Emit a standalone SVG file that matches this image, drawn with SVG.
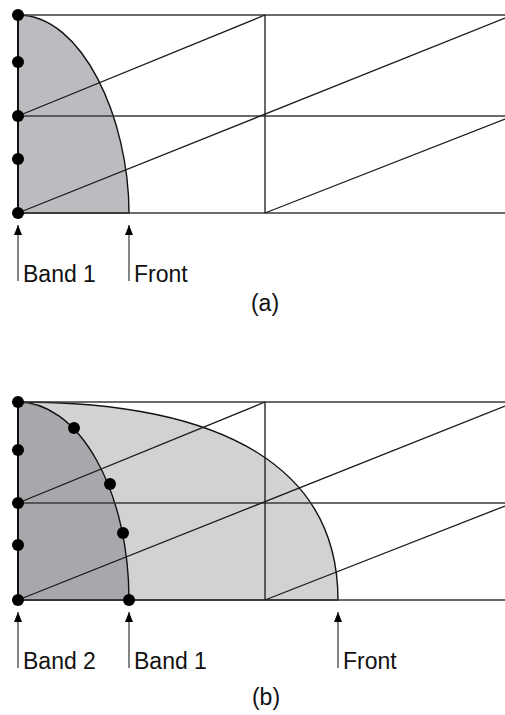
<svg xmlns="http://www.w3.org/2000/svg" width="505" height="715" viewBox="0 0 505 715">
<style>
.ln{stroke:#1a1a1a;stroke-width:1.3;fill:none}
.hl{stroke:#3a3a3a;stroke-width:1.5;fill:none}
.lv{stroke:#111;stroke-width:2;fill:none}
.cv{stroke:#111;stroke-width:1.4}
.dot{fill:#000}
.ar{stroke:#222;stroke-width:1.1;fill:none}
.tx{font-family:"Liberation Sans",Arial,sans-serif;font-size:23px;fill:#111}
</style>
<defs>
<marker id="ah" viewBox="0 0 10 8" refX="10" refY="4" markerWidth="10" markerHeight="8" markerUnits="userSpaceOnUse" orient="auto">
<path d="M0,0 L10,4 L0,8 Z" fill="#000"/>
</marker>
</defs>
<!-- Panel (a) -->
<g id="panel-a">
<g id="a-front">
<path class="cv" d="M18,15 C83,15 129,120 129,213 L18,213 Z" fill="#bbbcbf"/>
</g>
<g id="a-grid">
<line class="hl" x1="18" y1="15" x2="505" y2="15"/>
<line class="hl" x1="18" y1="116" x2="505" y2="116"/>
<line class="hl" x1="18" y1="213" x2="505" y2="213"/>
<line class="ln" x1="265" y1="15" x2="265" y2="213"/>
<line class="ln" x1="18" y1="116" x2="265" y2="15"/>
<line class="ln" x1="18" y1="213" x2="505" y2="18"/>
<line class="ln" x1="265" y1="213" x2="505" y2="119"/>
<line class="lv" x1="18" y1="15" x2="18" y2="213"/>
</g>
<g id="a-dots">
<circle class="dot" cx="18" cy="15" r="6"/>
<circle class="dot" cx="18" cy="62" r="6"/>
<circle class="dot" cx="18" cy="116" r="6"/>
<circle class="dot" cx="18" cy="159" r="6"/>
<circle class="dot" cx="18" cy="213" r="6"/>
</g>
<g id="a-labels">
<line class="ar" x1="18" y1="281" x2="18" y2="225" marker-end="url(#ah)"/>
<line class="ar" x1="129" y1="281" x2="129" y2="225" marker-end="url(#ah)"/>
<text class="tx" x="23" y="282">Band 1</text>
<text class="tx" x="134" y="282">Front</text>
<text class="tx" x="265" y="311" text-anchor="middle">(a)</text>
</g>
</g>
<!-- Panel (b) -->
<g id="panel-b">
<g id="b-front">
<path class="cv" d="M18,402 C228,402 338,470 338,600 L18,600 Z" fill="#d1d2d4"/>
</g>
<g id="b-band1">
<path class="cv" d="M18,402 A111,198 0 0 1 129,600 L18,600 Z" fill="#a7a8ab"/>
</g>
<g id="b-grid">
<line class="hl" x1="18" y1="402" x2="505" y2="402"/>
<line class="hl" x1="18" y1="503" x2="505" y2="503"/>
<line class="hl" x1="18" y1="600" x2="505" y2="600"/>
<line class="ln" x1="265" y1="402" x2="265" y2="600"/>
<line class="ln" x1="18" y1="503" x2="265" y2="402"/>
<line class="ln" x1="18" y1="600" x2="505" y2="406"/>
<line class="ln" x1="265" y1="600" x2="505" y2="506"/>
<line class="lv" x1="18" y1="402" x2="18" y2="600"/>
</g>
<g id="b-dots">
<circle class="dot" cx="18" cy="402" r="6"/>
<circle class="dot" cx="18" cy="450" r="6"/>
<circle class="dot" cx="18" cy="503" r="6"/>
<circle class="dot" cx="18" cy="545" r="6"/>
<circle class="dot" cx="18" cy="600" r="6"/>
<circle class="dot" cx="74" cy="428" r="6"/>
<circle class="dot" cx="110" cy="484" r="6"/>
<circle class="dot" cx="123" cy="533" r="6"/>
<circle class="dot" cx="129" cy="600" r="6"/>
</g>
<g id="b-labels">
<line class="ar" x1="18" y1="668" x2="18" y2="612" marker-end="url(#ah)"/>
<line class="ar" x1="129" y1="668" x2="129" y2="612" marker-end="url(#ah)"/>
<line class="ar" x1="338" y1="668" x2="338" y2="612" marker-end="url(#ah)"/>
<text class="tx" x="23" y="669">Band 2</text>
<text class="tx" x="134" y="669">Band 1</text>
<text class="tx" x="343" y="669">Front</text>
<text class="tx" x="266" y="705" text-anchor="middle">(b)</text>
</g>
</g>
</svg>
